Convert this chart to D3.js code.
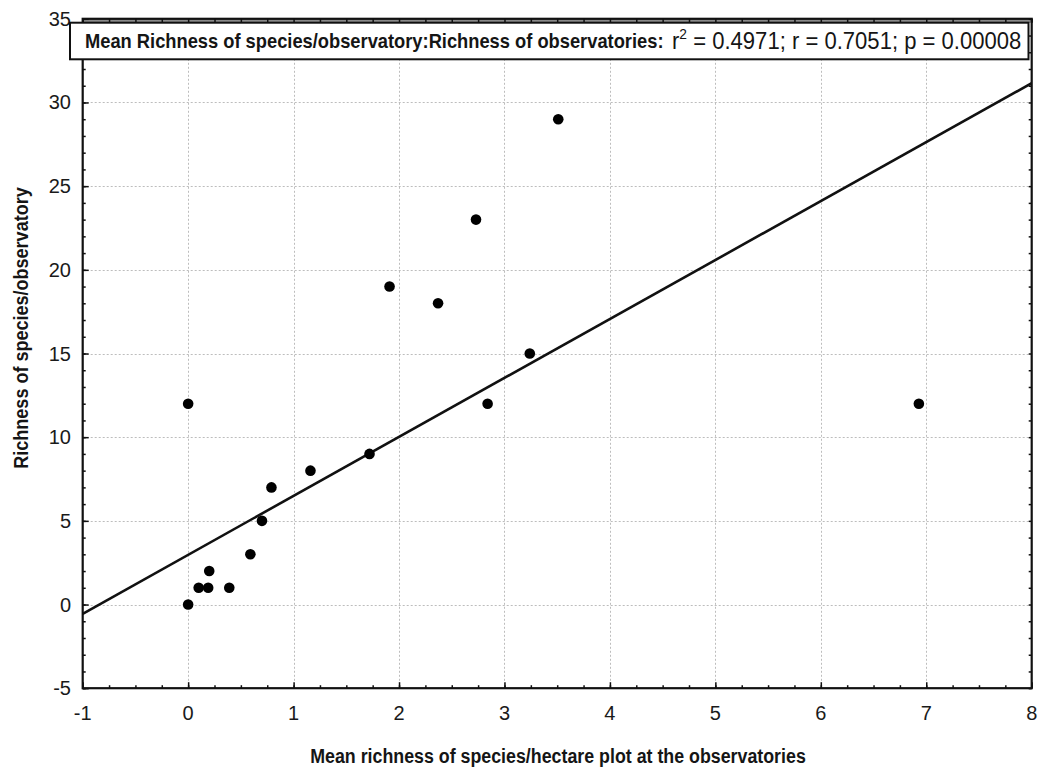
<!DOCTYPE html>
<html>
<head>
<meta charset="utf-8">
<script src="https://cdn.jsdelivr.net/npm/d3@7"></script>
<style>
  body { margin: 0; background: #fff; }
  svg { display: block; }
  text { font-family: "Liberation Sans", Arial, sans-serif; fill: #151515; }
  .tick-label { font-size: 20px; fill: #1a1a1a; }
</style>
</head>
<body>
<svg id="chart"></svg>
<script>
// observatories: mean richness per hectare plot (x) vs richness per observatory (y)
const obsX = [0, 0, 0.1, 0.19, 0.2, 0.39, 0.59, 0.7, 0.79, 1.16, 1.72, 1.91, 2.37, 2.73, 2.84, 3.24, 3.51, 6.93];
const obsY = [0, 12, 1, 1, 2, 1, 3, 5, 7, 8, 9, 19, 18, 23, 12, 15, 29, 12];

// fitted line shown in the figure
const fitIntercept = 2.97;
const fitSlope = 3.523;

const xTicks = [-1, 0, 1, 2, 3, 4, 5, 6, 7, 8];
const yTicks = [-5, 0, 5, 10, 15, 20, 25, 30, 35];

const titleMain = "Mean Richness of species/observatory:Richness of observatories:";
const statsRest = " = 0.4971;  r = 0.7051; p = 0.00008";
const xTitle = "Mean richness of species/hectare plot at the observatories";
const yTitle = "Richness of species/observatory";

const W = 1041, H = 774;
const L = 82.7, R = 1031.7, T = 18.8, B = 688.2;

const svg = d3.select("#chart").attr("width", W).attr("height", H);

const x = d3.scaleLinear().domain([-1, 8]).range([L, R]);
const y = d3.scaleLinear().domain([-5, 35]).range([B, T]);

// squeeze a text node horizontally to a given width (the original uses a narrow face)
function fitWidth(g, target) {
  const w = g.node().getBBox().width;
  return target / w;
}

// grid
const grid = svg.append("g").attr("stroke", "#bdbdbd").attr("stroke-width", 1)
  .attr("stroke-dasharray", "2,2");
grid.selectAll("line.gx").data(xTicks.slice(1, -1)).join("line")
  .attr("x1", d => Math.round(x(d)) + 0.5).attr("x2", d => Math.round(x(d)) + 0.5)
  .attr("y1", T).attr("y2", B);
grid.selectAll("line.gy").data(yTicks.slice(1, -1)).join("line")
  .attr("y1", d => Math.round(y(d)) + 0.5).attr("y2", d => Math.round(y(d)) + 0.5)
  .attr("x1", L).attr("x2", R);

// top band behind the title box
svg.append("rect").attr("x", L).attr("y", T).attr("width", R - L).attr("height", 4)
  .attr("fill", "#8a8a8a");

// axes with inward ticks on all four sides
const xMinor = d3.range(-1, 8.001, 0.25);
const yMinor = d3.range(-5, 35.001, 1);

function styleAxis(g) {
  g.select(".domain").remove();
  g.selectAll(".tick line").attr("stroke", "#111").attr("stroke-width", 1.5);
}
svg.append("g").attr("transform", `translate(0,${B})`)
  .call(d3.axisBottom(x).tickValues(xMinor).tickSize(-3).tickFormat("")).call(styleAxis);
svg.append("g").attr("transform", `translate(0,${T})`)
  .call(d3.axisTop(x).tickValues(xMinor).tickSize(-4).tickFormat("")).call(styleAxis);
svg.append("g").attr("transform", `translate(${L},0)`)
  .call(d3.axisLeft(y).tickValues(yMinor).tickSize(-3).tickFormat("")).call(styleAxis);
svg.append("g").attr("transform", `translate(${R},0)`)
  .call(d3.axisRight(y).tickValues(yMinor).tickSize(-3).tickFormat("")).call(styleAxis);

// major ticks a bit longer
svg.append("g").attr("transform", `translate(0,${B})`)
  .call(d3.axisBottom(x).tickValues(xTicks).tickSize(-6).tickFormat("")).call(styleAxis);
svg.append("g").attr("transform", `translate(${L},0)`)
  .call(d3.axisLeft(y).tickValues(yTicks).tickSize(-6).tickFormat("")).call(styleAxis);

// frame
svg.append("rect").attr("x", L).attr("y", T).attr("width", R - L).attr("height", B - T)
  .attr("fill", "none").attr("stroke", "#111").attr("stroke-width", 2.2);

// tick labels
svg.append("g").selectAll("text").data(xTicks).join("text")
  .attr("class", "tick-label")
  .attr("x", d => x(d)).attr("y", 720)
  .attr("text-anchor", "middle")
  .text(d => d);
svg.append("g").selectAll("text").data(yTicks).join("text")
  .attr("class", "tick-label")
  .attr("x", 71).attr("y", d => y(d) + 7)
  .attr("text-anchor", "end")
  .text(d => d);

// clip for the fit line
svg.append("clipPath").attr("id", "plotclip").append("rect")
  .attr("x", L).attr("y", T).attr("width", R - L).attr("height", B - T);

const fitX = [-1, 8];
svg.append("path")
  .datum(fitX)
  .attr("clip-path", "url(#plotclip)")
  .attr("fill", "none").attr("stroke", "#111").attr("stroke-width", 2.6)
  .attr("d", d3.line().x(d => x(d)).y(d => y(fitIntercept + fitSlope * d)));

// points
svg.append("g").selectAll("circle").data(obsX).join("circle")
  .attr("cx", d => x(d)).attr("cy", (d, i) => y(obsY[i]))
  .attr("r", 5.3).attr("fill", "#000");

// title box
svg.append("rect").attr("x", 70).attr("y", 22.7).attr("width", 1028.5 - 70).attr("height", 36.6)
  .attr("fill", "#fff").attr("stroke", "#111").attr("stroke-width", 2);

const gMain = svg.append("g");
gMain.append("text").attr("font-size", 20).attr("font-weight", "bold").text(titleMain);
gMain.attr("transform", `translate(85,47.7) scale(${fitWidth(gMain, 579)},1)`);

const gStats = svg.append("g");
const st = gStats.append("text").attr("font-size", 24);
st.append("tspan").text("r");
st.append("tspan").attr("font-size", 15).attr("dy", -10).text("2");
st.append("tspan").attr("dy", 10).text(statsRest);
gStats.attr("transform", `translate(672,49.3) scale(${fitWidth(gStats, 349.5)},1)`);

// axis titles
const gx = svg.append("g");
gx.append("text").attr("font-size", 20.5).attr("font-weight", "bold")
  .attr("text-anchor", "middle").text(xTitle);
gx.attr("transform", `translate(558,763) scale(${fitWidth(gx, 496)},1)`);

const gy = svg.append("g");
gy.append("text").attr("font-size", 20.5).attr("font-weight", "bold")
  .attr("text-anchor", "middle").text(yTitle);
gy.attr("transform", `translate(28,328) rotate(-90) scale(${fitWidth(gy, 282)},1)`);
</script>
</body>
</html>
